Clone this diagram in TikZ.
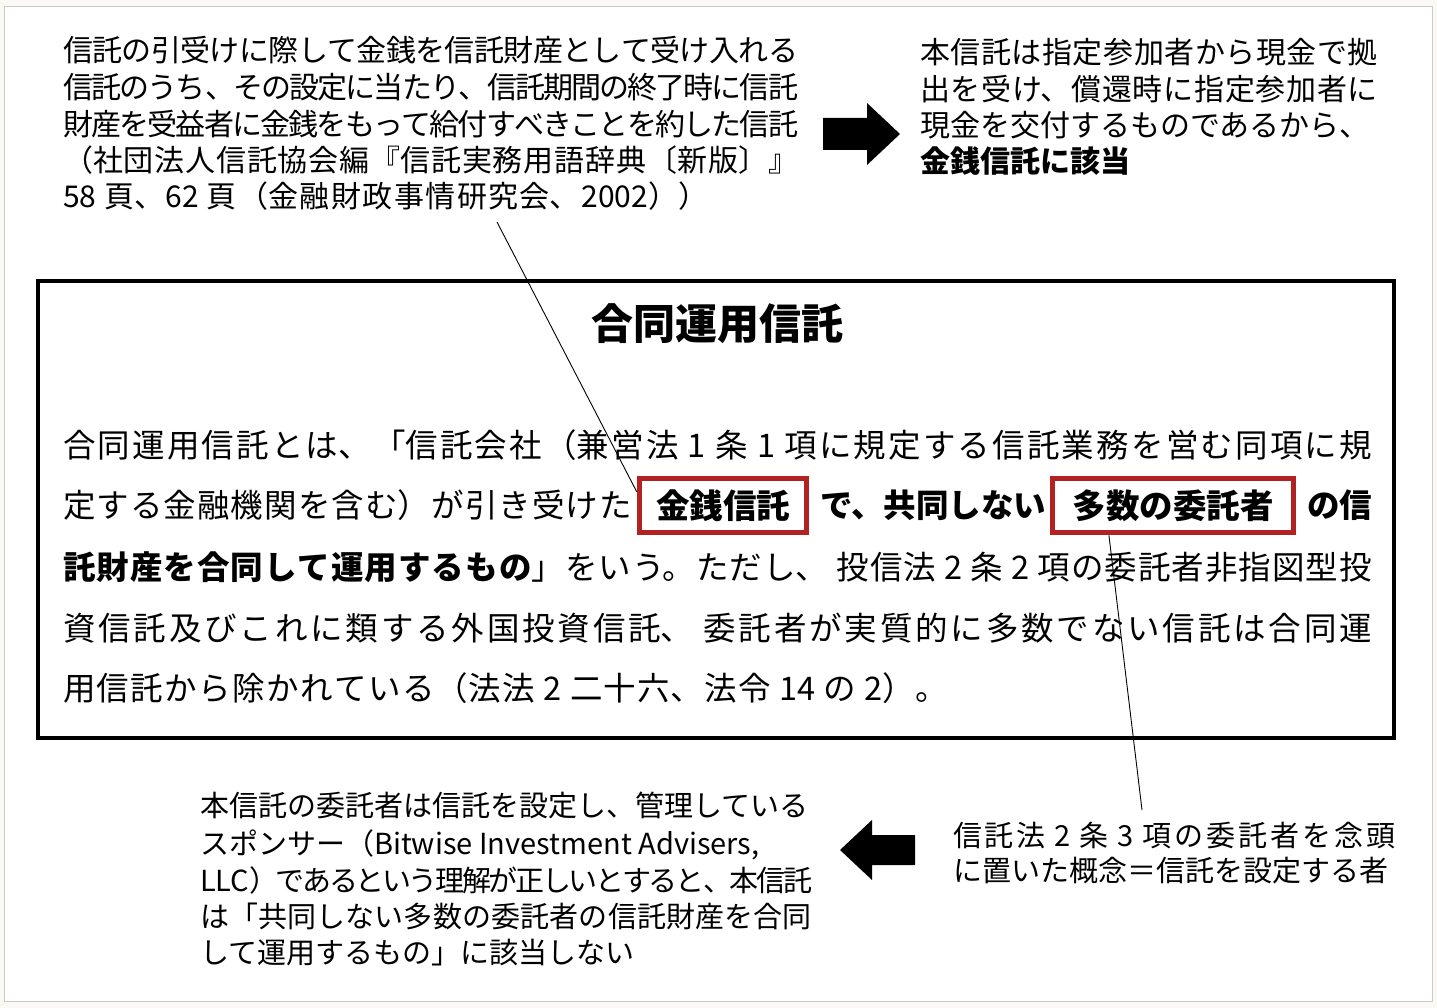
\documentclass[tikz,border=0pt]{standalone}
\usepackage{fontspec}
\setmainfont{Noto Sans CJK JP}
\usetikzlibrary{calc}
\XeTeXlinebreaklocale "ja"
\XeTeXlinebreakskip=0pt plus 4pt minus 3pt
\definecolor{outerbg}{RGB}{250,249,245}
\definecolor{framegray}{RGB}{205,203,197}
\definecolor{boxred}{RGB}{178,34,34}
\newcommand\jfont[1]{\fontsize{#1pt}{#1pt}\selectfont}
\newcommand\sline[2]{%
  \setbox0=\vbox{\hsize=10000pt\parindent=0pt\leftskip=0pt\rightskip=0pt\parfillskip=0pt plus 1fil\noindent #2\par\global\setbox1=\lastbox}%
  \hbox to #1pt{\unhbox1\unskip\unskip\unpenalty}}
\begin{document}
\begin{tikzpicture}[x=1pt,y=-1pt,
  txt/.style={anchor=base west, inner sep=0pt, outer sep=0pt},
  body/.style={txt, font=\jfont{32.5}},
  bodybold/.style={txt, font=\jfont{32.5}\bfseries},
  note/.style={txt, font=\jfont{30}},
  small/.style={txt, font=\jfont{29}},
  redbox/.style={draw=boxred, line width=5.5pt, inner sep=0pt, font=\jfont{33.5}\bfseries},
  mainframe/.style={draw=black, line width=4.5pt, inner sep=0pt},
  blockarrow/.style={fill=black},
  leader/.style={draw=black, line width=0.9pt}]
\path[fill=outerbg] (0,0) rectangle (1437,1008);
\path[fill=white, draw=framegray, line width=1pt] (4,7) rectangle (1432,1001);
\useasboundingbox (0,0) rectangle (1437,1008);

% main box
\node[mainframe, minimum width=1356pt, minimum height=457pt] (mainbox) at (716,509.5) {};
\node[txt, anchor=base, font=\jfont{42}\bfseries] (title) at (717,339) {合同運用信託};

\node[body] (b1) at (63,457) {\sline{1309}{合同運用信託とは、「信託会社（兼営法 1 条 1 項に規定する信託業務を営む同項に規}};
\node[body] (b2a) at (63,517.5) {\sline{569}{定する金融機関を含む）が引き受けた}};
\node[redbox, minimum width=167pt, minimum height=54pt] (box1) at (723,505.5) {金銭信託};
\node[bodybold] (b2b) at (820,517.5) {で、共同しない};
\node[redbox, minimum width=241pt, minimum height=54pt] (box2) at (1173,505.5) {多数の委託者};
\node[bodybold, anchor=base east] (b2c) at (1372,517.5) {の信};
\node[body] (b3) at (63,579.5) {\sline{1309}{\textbf{託財産を合同して運用するもの}」をいう。ただし、 投信法 2 条 2 項の委託者非指図型投}};
\node[body] (b4) at (63,640.5) {\sline{1309}{資信託及びこれに類する外国投資信託、 委託者が実質的に多数でない信託は合同運}};
\node[body] (b5) at (63,700.5) {\sline{885}{用信託から除かれている（法法 2 二十六、法令 14 の 2）。}};

% top-left note
\node[note] (tl1) at (63,61.5) {\sline{735}{信託の引受けに際して金銭を信託財産として受け入れる}};
\node[note] (tl2) at (63,98.5) {\sline{735}{信託のうち、その設定に当たり、信託期間の終了時に信託}};
\node[note] (tl3) at (63,135.5) {\sline{735}{財産を受益者に金銭をもって給付すべきことを約した信託}};
\node[note] (tl4) at (63,171.5) {\sline{735}{（社団法人信託協会編『信託実務用語辞典〔新版〕』}};
\node[note] (tl5) at (63,207.5) {\sline{645}{58 頁、62 頁（金融財政事情研究会、2002））}};

% top-right note
\node[note] (tr1) at (920,63.5) {\sline{458}{本信託は指定参加者から現金で拠}};
\node[note] (tr2) at (920,100.5) {\sline{458}{出を受け、償還時に指定参加者に}};
\node[note] (tr3) at (920,136.5) {現金を交付するものであるから、};
\node[note, font=\jfont{30}\bfseries] (tr4) at (920,172.5) {金銭信託に該当};

% bottom-left note
\node[small] (bl1) at (200,816) {本信託の委託者は信託を設定し、管理している};
\node[small] (bl2) at (200,854) {スポンサー（Bitwise Investment Advisers,};
\node[small] (bl3) at (200,891) {\sline{612}{LLC）であるという理解が正しいとすると、本信託}};
\node[small] (bl4) at (200,927) {\sline{612}{は「共同しない多数の委託者の信託財産を合同}};
\node[small] (bl5) at (200,963) {して運用するもの」に該当しない};

% bottom-right note
\node[small] (br1) at (953,846) {\sline{442}{信託法 2 条 3 項の委託者を念頭}};
\node[small] (br2) at (953,881) {に置いた概念＝信託を設定する者};

% block arrows
\path[blockarrow] (823,118) -- (867,118) -- (867,103) -- (900,134) -- (867,165) -- (867,150) -- (823,150) -- cycle;
\path[blockarrow] (915,835) -- (872,835) -- (872,820) -- (840,850) -- (872,880) -- (872,865) -- (915,865) -- cycle;

% leader lines
\coordinate (c1s) at (497,222);
\coordinate (c2e) at (1142,810);
\draw[leader] (c1s) -- ($(box1.north west)!0.27!(box1.south west)$);
\draw[leader] ($(box2.south west)!0.24!(box2.south east)$) -- (c2e);
\end{tikzpicture}
\end{document}
